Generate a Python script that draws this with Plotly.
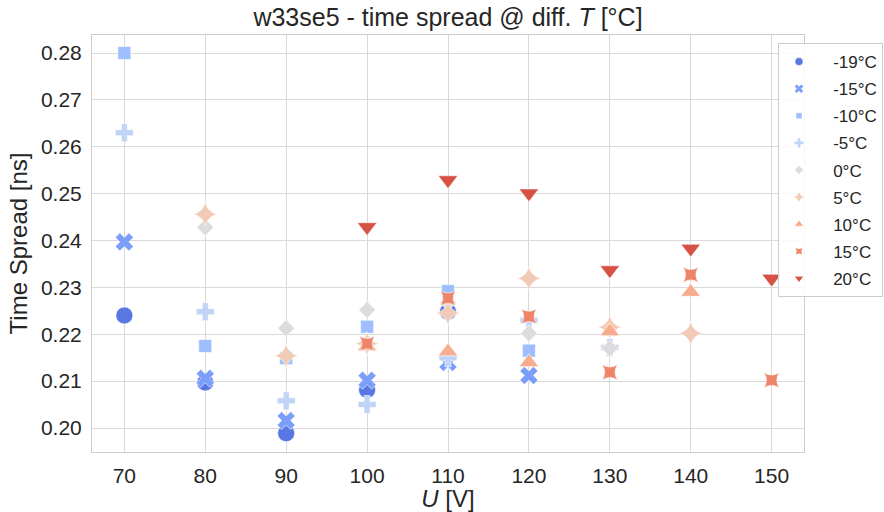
import plotly.graph_objects as go

# ---------------- data ----------------
temps = ["-19°C", "-15°C", "-10°C", "-5°C", "0°C", "5°C", "10°C", "15°C", "20°C"]

u_m19 = [70, 80, 90, 100, 110]
ts_m19 = [0.2240, 0.2097, 0.1989, 0.2081, 0.2248]

u_m15 = [70, 80, 90, 100, 110, 120]
ts_m15 = [0.2397, 0.2106, 0.2016, 0.2102, 0.2140, 0.2112]

u_m10 = [70, 80, 90, 100, 110, 120]
ts_m10 = [0.2800, 0.2175, 0.2149, 0.2216, 0.2292, 0.2165]

u_m5 = [70, 80, 90, 100, 110, 120, 130]
ts_m5 = [0.2630, 0.2248, 0.2058, 0.2050, 0.2150, 0.2230, 0.2172]

u_0 = [80, 90, 100, 110, 120, 130]
ts_0 = [0.2428, 0.2213, 0.2252, 0.2268, 0.2202, 0.2170]

u_5 = [80, 90, 100, 110, 120, 130, 140]
ts_5 = [0.2456, 0.2154, 0.2180, 0.2245, 0.2319, 0.2215, 0.2202]

u_10 = [100, 110, 120, 130, 140]
ts_10 = [0.2174, 0.2163, 0.2140, 0.2206, 0.2290]

u_15 = [100, 110, 120, 130, 140, 150]
ts_15 = [0.2180, 0.2277, 0.2238, 0.2119, 0.2327, 0.2102]

u_20 = [100, 110, 120, 130, 140, 150]
ts_20 = [0.2429, 0.2529, 0.2501, 0.2337, 0.2383, 0.2319]

x_ticks = [70, 80, 90, 100, 110, 120, 130, 140, 150]
y_ticks = [0.20, 0.21, 0.22, 0.23, 0.24, 0.25, 0.26, 0.27, 0.28]

series_u = [u_m19, u_m15, u_m10, u_m5, u_0, u_5, u_10, u_15, u_20]
series_ts = [ts_m19, ts_m15, ts_m10, ts_m5, ts_0, ts_5, ts_10, ts_15, ts_20]

# ---------------- style ----------------
colors = ["#5977e3", "#7b9ff9", "#9ebeff", "#c0d4f5", "#dddcdc",
          "#f2cbb7", "#f7ac8e", "#ee8468", "#d65244"]
symbols = ["circle", "x", "square", "cross", "diamond",
           "star-diamond", "triangle-up", "star-square", "triangle-down"]
sizes = [17, 16, 13, 15, 13, 17, 17, 14, 17]
leg_sizes = [8, 8, 6, 8, 7, 8, 8, 7, 8]

FONT = "Liberation Sans, Arial, sans-serif"
TXT = "#262626"

fig = go.Figure()
for name, u, ts, c, s, sz in zip(temps, series_u, series_ts, colors, symbols, sizes):
    fig.add_trace(go.Scatter(
        x=u, y=ts, mode="markers", name=name, showlegend=False,
        marker=dict(color=c, symbol=s, size=sz, line=dict(color="white", width=0.6)),
    ))
# legend entries (small symbols)
for name, c, s, sz in zip(temps, colors, symbols, leg_sizes):
    fig.add_trace(go.Scatter(
        x=[None], y=[None], mode="markers", name="\u00a0\u00a0\u00a0" + name,
        legendgroup=name,
        marker=dict(color=c, symbol=s, size=sz, line=dict(color="white", width=0.5)),
    ))

fig.update_layout(
    width=884, height=512,
    margin=dict(l=92, r=80, t=35, b=60, autoexpand=False),
    paper_bgcolor="white", plot_bgcolor="white",
    font=dict(family=FONT, color=TXT),
    title=dict(text="w33se5 - time spread @ diff. <i>T</i> [°C]",
               x=(92 + 804) / 2 / 884, xanchor="center",
               y=1 - 17 / 512, yanchor="middle",
               font=dict(size=25, color=TXT, family=FONT)),
    legend=dict(xref="container", yref="container",
                x=778 / 884, xanchor="left", y=1 - 43 / 512, yanchor="top",
                bgcolor="rgba(255,255,255,0.85)", bordercolor="#cccccc", borderwidth=1,
                font=dict(size=17, color=TXT, family=FONT),
                tracegroupgap=2, itemwidth=30),
    showlegend=True,
)
fig.update_xaxes(
    range=[66, 154], tickvals=x_ticks, ticktext=[str(v) for v in x_ticks],
    showgrid=True, gridcolor="#d9d9d9", gridwidth=1,
    showline=True, linecolor="#cccccc", linewidth=1, mirror=True, zeroline=False,
    ticks="outside", ticklen=5, tickcolor="rgba(0,0,0,0)",
    tickfont=dict(size=21, color=TXT, family=FONT),
    title=dict(text="<i>U</i> [V]", font=dict(size=24, color=TXT, family=FONT), standoff=0),
)
fig.update_yaxes(
    range=[0.19488, 0.28384], tickvals=y_ticks, tickformat=".2f",
    showgrid=True, gridcolor="#d9d9d9", gridwidth=1,
    showline=True, linecolor="#cccccc", linewidth=1, mirror=True, zeroline=False,
    ticks="outside", ticklen=5, tickcolor="rgba(0,0,0,0)",
    tickfont=dict(size=21, color=TXT, family=FONT),
    title=dict(text="Time Spread [ns]", font=dict(size=24, color=TXT, family=FONT), standoff=6),
)

fig.write_html("out.html")
